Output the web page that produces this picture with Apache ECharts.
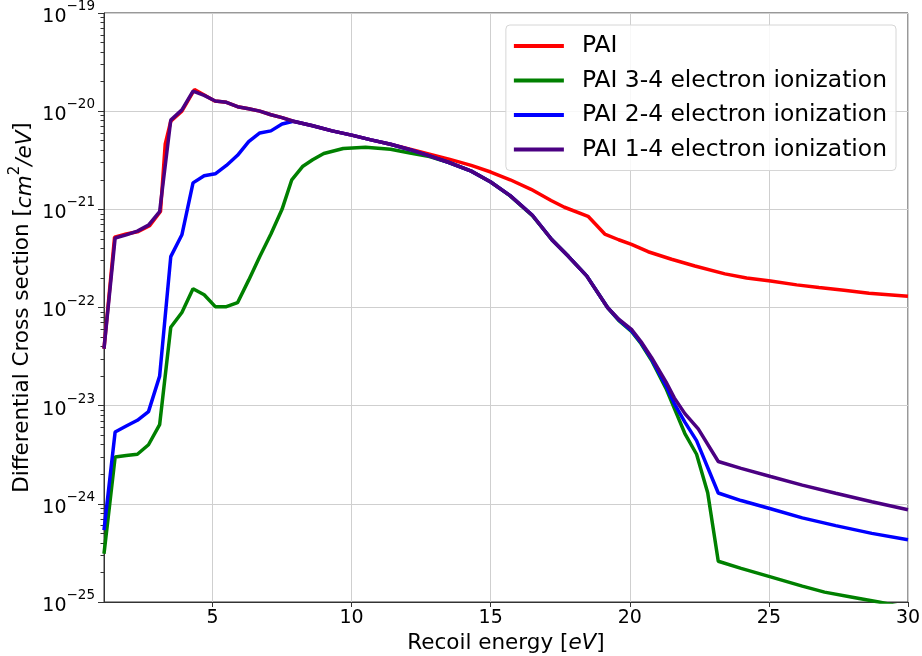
<!DOCTYPE html>
<html>
<head>
<meta charset="utf-8">
<script src="https://cdn.jsdelivr.net/npm/echarts@6/dist/echarts.min.js"></script>
<style>
html,body{margin:0;padding:0;background:#fff;}
#chart{width:922px;height:656px;}
</style>
</head>
<body>
<div id="chart"></div>
<script>
// ---- data ----
const seriesNames = ['PAI', 'PAI 3-4 electron ionization', 'PAI 2-4 electron ionization', 'PAI 1-4 electron ionization'];
const seriesColors = ['#ff0000', '#008000', '#0000ff', '#4b0082'];

const energyPAI = [1.1, 1.48, 1.9, 2.3, 2.74, 3.13, 3.3, 3.5, 3.9, 4.35, 4.72, 5.08, 5.5, 5.9, 6.3, 6.7, 7.1, 7.5, 7.9, 8.6, 9.3, 10.0, 10.7, 11.4, 12.1, 12.8, 13.5, 14.3, 15.0, 15.7, 16.45, 17.17, 17.65, 18.5, 19.1, 19.6, 20.06, 20.66, 21.5, 22.34, 23.42, 24.2, 25.06, 26.0, 26.8, 27.7, 28.6, 29.3, 30.0];
const valuesPAI = [3.8e-23, 5.2e-22, 5.6e-22, 5.9e-22, 6.8e-22, 9.5e-22, 4.6e-21, 7.9e-21, 1.0e-20, 1.66e-20, 1.45e-20, 1.27e-20, 1.23e-20, 1.11e-20, 1.06e-20, 1.0e-20, 9.2e-21, 8.6e-21, 7.9e-21, 7.1e-21, 6.3e-21, 5.7e-21, 5.1e-21, 4.6e-21, 4.1e-21, 3.65e-21, 3.25e-21, 2.8e-21, 2.4e-21, 2.0e-21, 1.6e-21, 1.23e-21, 1.05e-21, 8.5e-22, 5.6e-22, 4.9e-22, 4.4e-22, 3.7e-22, 3.1e-22, 2.65e-22, 2.2e-22, 2.0e-22, 1.86e-22, 1.7e-22, 1.6e-22, 1.5e-22, 1.4e-22, 1.35e-22, 1.3e-22];

const energy34 = [1.1, 1.5, 1.9, 2.3, 2.7, 3.1, 3.5, 3.9, 4.3, 4.7, 5.1, 5.5, 5.9, 6.3, 6.7, 7.1, 7.5, 7.85, 8.25, 8.6, 9.0, 9.7, 10.5, 11.4, 12.1, 12.8, 13.5, 14.3, 15.0, 15.7, 16.5, 17.2, 17.8, 18.45, 19.2, 19.6, 20.06, 20.4, 20.78, 21.3, 21.98, 22.4, 22.8, 23.18, 24.0, 25.06, 26.2, 27.0, 28.0, 28.95, 30.0];
const values34 = [3.1e-25, 3.0e-24, 3.1e-24, 3.2e-24, 4.0e-24, 6.4e-24, 6.3e-23, 8.9e-23, 1.55e-22, 1.35e-22, 1.02e-22, 1.02e-22, 1.12e-22, 1.9e-22, 3.3e-22, 5.6e-22, 1.0e-21, 2.0e-21, 2.75e-21, 3.2e-21, 3.7e-21, 4.17e-21, 4.3e-21, 4.1e-21, 3.75e-21, 3.45e-21, 3.0e-21, 2.45e-21, 1.9e-21, 1.37e-21, 8.6e-22, 4.9e-22, 3.3e-22, 2.1e-22, 1.0e-22, 7.4e-23, 5.7e-23, 4.3e-23, 2.9e-23, 1.5e-23, 5.2e-24, 3.2e-24, 1.3e-24, 2.6e-25, 2.2e-25, 1.8e-25, 1.45e-25, 1.26e-25, 1.12e-25, 1.0e-25, 8.7e-26];

const energy24 = [1.1, 1.5, 1.9, 2.3, 2.7, 3.1, 3.5, 3.9, 4.3, 4.7, 5.1, 5.5, 5.9, 6.3, 6.7, 7.1, 7.5, 7.9, 8.6, 9.3, 10.0, 10.7, 11.4, 12.1, 12.8, 13.5, 14.3, 15.0, 15.7, 16.5, 17.2, 17.8, 18.45, 19.2, 19.6, 20.06, 20.4, 20.78, 21.3, 21.6, 21.98, 22.4, 23.18, 24.0, 25.06, 26.2, 27.4, 28.7, 30.0];
const values24 = [5.4e-25, 5.4e-24, 6.2e-24, 7.1e-24, 8.7e-24, 2.0e-23, 3.3e-22, 5.5e-22, 1.86e-21, 2.2e-21, 2.3e-21, 2.8e-21, 3.55e-21, 4.9e-21, 6.0e-21, 6.3e-21, 7.4e-21, 7.9e-21, 7.1e-21, 6.3e-21, 5.7e-21, 5.1e-21, 4.6e-21, 4.05e-21, 3.5e-21, 3.0e-21, 2.45e-21, 1.9e-21, 1.38e-21, 8.7e-22, 4.9e-22, 3.3e-22, 2.1e-22, 1.0e-22, 7.5e-23, 5.8e-23, 4.4e-23, 3.0e-23, 1.6e-23, 1.05e-23, 6.8e-24, 4.4e-24, 1.29e-24, 1.08e-24, 8.9e-25, 7.2e-25, 6.0e-25, 5.0e-25, 4.3e-25];

const energy14 = [1.1, 1.5, 1.9, 2.3, 2.7, 3.1, 3.5, 3.9, 4.3, 4.7, 5.1, 5.5, 5.9, 6.3, 6.7, 7.1, 7.5, 7.9, 8.6, 9.3, 10.0, 10.7, 11.4, 12.1, 12.8, 13.5, 14.3, 15.0, 15.7, 16.5, 17.2, 17.8, 18.45, 19.2, 19.6, 20.06, 20.4, 20.78, 21.3, 21.6, 21.98, 22.46, 23.18, 24.0, 25.06, 26.2, 27.4, 28.7, 30.0];
const values14 = [3.8e-23, 5.1e-22, 5.5e-22, 6.0e-22, 6.9e-22, 9.5e-22, 8.1e-21, 1.03e-20, 1.6e-20, 1.45e-20, 1.27e-20, 1.23e-20, 1.11e-20, 1.06e-20, 1.0e-20, 9.2e-21, 8.6e-21, 7.9e-21, 7.1e-21, 6.3e-21, 5.7e-21, 5.1e-21, 4.6e-21, 4.05e-21, 3.5e-21, 3.0e-21, 2.45e-21, 1.9e-21, 1.38e-21, 8.7e-22, 4.9e-22, 3.3e-22, 2.1e-22, 1.0e-22, 7.6e-23, 6.0e-23, 4.5e-23, 3.1e-23, 1.75e-23, 1.2e-23, 8.3e-24, 5.8e-24, 2.7e-24, 2.3e-24, 1.9e-24, 1.55e-24, 1.28e-24, 1.05e-24, 8.7e-25];

const xTicks = [5, 10, 15, 20, 25, 30];
const yMinExp = -25, yMaxExp = -19;

// ---- chart ----
// The log axis works in units of 1e-25 (so values stay in a numerically safe range);
// labels are converted back to the real powers of ten.
const UNIT_EXP = yMinExp;
const FONT = 'DejaVu Sans';
function pairs(xs, ys) { return xs.map((x, i) => [x, ys[i] / Math.pow(10, UNIT_EXP)]); }
const allX = [energyPAI, energy34, energy24, energy14];
const allY = [valuesPAI, values34, values24, values14];
const minorScaled = [];
for (let d = 0; d < yMaxExp - yMinExp; d++) {
  for (let m = 2; m <= 9; m++) minorScaled.push(m * Math.pow(10, d));
}

const chart = echarts.init(document.getElementById('chart'), null, {renderer: 'canvas'});
const option = {
  backgroundColor: '#ffffff',
  animation: false,
  grid: {left: 104, right: 14, top: 13, bottom: 54, show: true, borderColor: '#333', borderWidth: 1,
         backgroundColor: 'transparent', containLabel: false, outerBoundsMode: 'none'},
  legend: {
    orient: 'vertical', right: 26, top: 25,
    itemWidth: 50, itemHeight: 4, itemGap: 8.5,
    icon: 'rect',
    padding: [8, 9, 8, 8],
    backgroundColor: 'rgba(255,255,255,0.85)',
    borderColor: '#d6d6d6', borderWidth: 1, borderRadius: 4,
    textStyle: {fontFamily: FONT, fontSize: 23.4, lineHeight: 26, color: '#000', padding: [0, 0, 0, 13]},
    data: seriesNames
  },
  xAxis: {
    type: 'value', min: 1.1, max: 30,
    name: 'Recoil energy [{i|eV}]', nameLocation: 'middle', nameGap: 26,
    nameTextStyle: {fontFamily: FONT, fontSize: 21.5, color: '#000', rich: {i: {fontFamily: FONT, fontSize: 21.5, fontStyle: 'italic', color: '#000'}}},
    axisLine: {show: true, onZero: false, lineStyle: {color: '#333', width: 1}},
    axisTick: {show: true, length: 5, lineStyle: {color: '#333'}, customValues: xTicks},
    axisLabel: {fontFamily: FONT, fontSize: 19, color: '#000', margin: 7, customValues: xTicks},
    splitLine: {show: true, lineStyle: {color: '#cfcfcf', width: 1}}
  },
  yAxis: [{
    type: 'log', logBase: 10, min: 1, max: Math.pow(10, yMaxExp - yMinExp),
    name: 'Differential Cross section [{i|cm}{s|2}{i|/eV}]', nameLocation: 'middle', nameGap: 68,
    nameMoveOverlap: false,
    nameTextStyle: {fontFamily: FONT, fontSize: 21.5, color: '#000',
      rich: {i: {fontFamily: FONT, fontSize: 21.5, fontStyle: 'italic', color: '#000', lineHeight: 28, verticalAlign: 'bottom'},
             s: {fontFamily: FONT, fontSize: 15, color: '#000', lineHeight: 28, verticalAlign: 'top'}}},
    axisLine: {show: true, onZero: false, lineStyle: {color: '#333', width: 1}},
    axisTick: {show: true, length: 6, lineStyle: {color: '#333'}},
    axisLabel: {
      margin: 9,
      formatter: function (v) {
        const e = Math.round(Math.log10(v)) + UNIT_EXP;
        return '{b|10}{s|' + (e < 0 ? '\u2212' : '') + Math.abs(e) + '}';
      },
      rich: {
        b: {fontFamily: FONT, fontSize: 19, color: '#000', lineHeight: 27, verticalAlign: 'bottom'},
        s: {fontFamily: FONT, fontSize: 13.5, color: '#000', lineHeight: 27, verticalAlign: 'top'}
      }
    },
    splitLine: {show: true, lineStyle: {color: '#cfcfcf', width: 1}}
  }, {
    type: 'log', logBase: 10, min: 1, max: Math.pow(10, yMaxExp - yMinExp), position: 'left',
    axisLine: {show: false},
    axisTick: {show: true, length: 3.5, lineStyle: {color: '#333'}, customValues: minorScaled},
    axisLabel: {show: false},
    splitLine: {show: false}
  }],
  series: seriesNames.map((name, i) => ({
    name: name, type: 'line', symbol: 'none', clip: true, yAxisIndex: 0,
    lineStyle: {color: seriesColors[i], width: 3.5},
    itemStyle: {color: seriesColors[i]},
    data: pairs(allX[i], allY[i]),
    z: 2 + i
  }))
};
chart.setOption(option);
</script>
</body>
</html>
